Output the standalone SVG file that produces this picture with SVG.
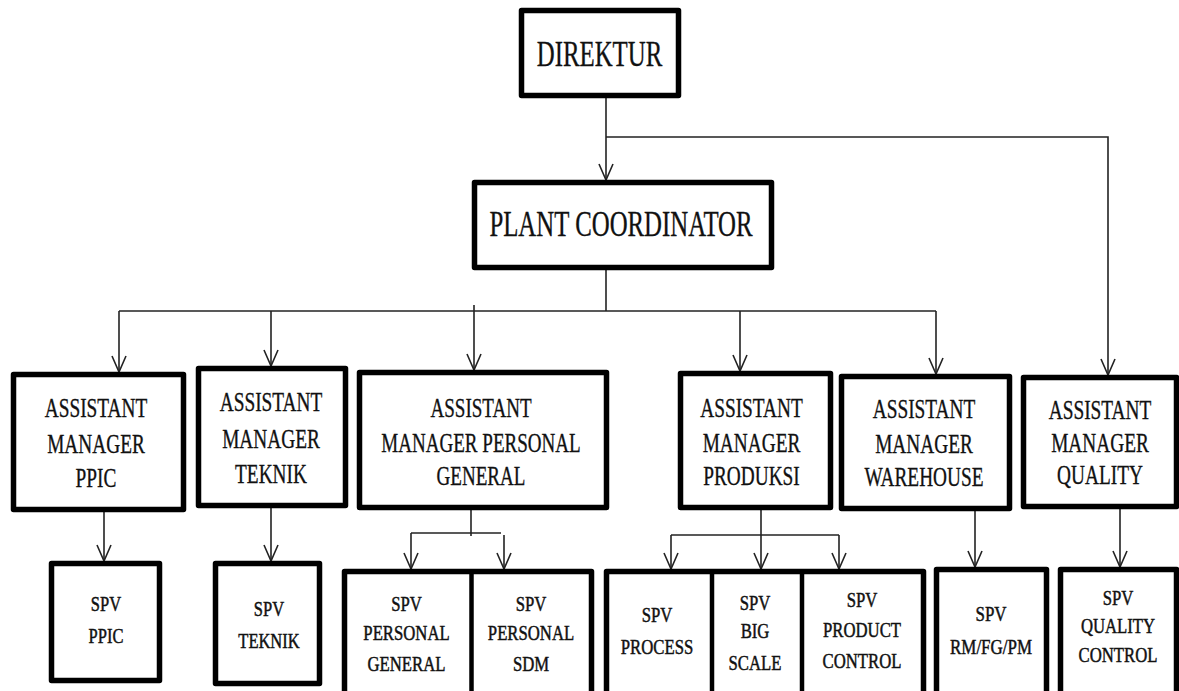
<svg xmlns="http://www.w3.org/2000/svg" width="1179" height="691" viewBox="0 0 1179 691">
<defs>
<style>
.box{fill:#fff;stroke:#000;stroke-width:5.5;stroke-linejoin:round}
.div{stroke:#000;stroke-width:4.5}
.ln{fill:none;stroke:#222;stroke-width:1.6}
.arr{marker-end:url(#ah)}
text{font-family:"Liberation Serif","Times New Roman",serif;fill:#111;stroke:#111;stroke-width:0.35;text-anchor:middle}
.t1{font-size:36px}
.t2{font-size:28px}
.t3{font-size:22px;stroke-width:0.5}
</style>
<marker id="ah" viewBox="-17 -8 18 16" refX="0" refY="0" markerWidth="18" markerHeight="16" markerUnits="userSpaceOnUse" orient="auto">
<path d="M-16,-7 L0,0 L-16,7" fill="none" stroke="#222" stroke-width="1.6"/>
</marker>
</defs>
<rect width="1179" height="691" fill="#fff"/>

<g id="connectors">
<path class="ln arr" d="M606,98 V180"/>
<path class="ln arr" d="M606,137 H1108 V375"/>
<path class="ln" d="M606,270 V311"/>
<path class="ln" d="M119,311 H936"/>
<path class="ln arr" d="M119,311 V372"/>
<path class="ln arr" d="M271,311 V366"/>
<path class="ln arr" d="M474,305 V370"/>
<path class="ln arr" d="M740,311 V371"/>
<path class="ln arr" d="M936,311 V374"/>
<path class="ln arr" d="M104,512 V561"/>
<path class="ln arr" d="M271,508 V561"/>
<path class="ln" d="M471,510 V536"/>
<path class="ln" d="M411,533 H501"/>
<path class="ln arr" d="M411,533 V569"/>
<path class="ln arr" d="M504,535 V569"/>
<path class="ln arr" d="M761,510 V569"/>
<path class="ln" d="M671,535 H839"/>
<path class="ln arr" d="M671,535 V569"/>
<path class="ln arr" d="M839,535 V569"/>
<path class="ln arr" d="M975,511 V567"/>
<path class="ln arr" d="M1120,508 V567"/>
</g>

<g id="direktur">
<rect class="box" x="521.5" y="10.5" width="157" height="85"/>
<g transform="translate(599.5 0) scale(0.69 1)"><text class="t1" y="66">DIREKTUR</text></g>
</g>

<g id="plant-coordinator">
<rect class="box" x="474.5" y="182.5" width="297" height="85"/>
<g transform="translate(621 0) scale(0.69 1)"><text class="t1" y="236">PLANT COORDINATOR</text></g>
</g>

<g id="am-ppic">
<rect class="box" x="13.5" y="374.5" width="170" height="135"/>
<g transform="translate(96 0) scale(0.69 1)">
<text class="t2" y="417">ASSISTANT</text>
<text class="t2" y="453">MANAGER</text>
<text class="t2" y="487">PPIC</text>
</g>
</g>

<g id="am-teknik">
<rect class="box" x="198.5" y="368.5" width="147" height="137"/>
<g transform="translate(271 0) scale(0.69 1)">
<text class="t2" y="411">ASSISTANT</text>
<text class="t2" y="448">MANAGER</text>
<text class="t2" y="483">TEKNIK</text>
</g>
</g>

<g id="am-personal-general">
<rect class="box" x="359.5" y="372.5" width="247" height="135"/>
<g transform="translate(481 0) scale(0.68 1)">
<text class="t2" y="417">ASSISTANT</text>
<text class="t2" y="452">MANAGER  PERSONAL</text>
<text class="t2" y="485">GENERAL</text>
</g>
</g>

<g id="am-produksi">
<rect class="box" x="680.5" y="373.5" width="150" height="134"/>
<g transform="translate(751.5 0) scale(0.69 1)">
<text class="t2" y="417">ASSISTANT</text>
<text class="t2" y="452">MANAGER</text>
<text class="t2" y="485">PRODUKSI</text>
</g>
</g>

<g id="am-warehouse">
<rect class="box" x="841.5" y="376.5" width="168" height="132"/>
<g transform="translate(924 0) scale(0.69 1)">
<text class="t2" y="418">ASSISTANT</text>
<text class="t2" y="453">MANAGER</text>
<text class="t2" y="486">WAREHOUSE</text>
</g>
</g>

<g id="am-quality">
<rect class="box" x="1023.5" y="377.5" width="153" height="129"/>
<g transform="translate(1100 0) scale(0.69 1)">
<text class="t2" y="419">ASSISTANT</text>
<text class="t2" y="452">MANAGER</text>
<text class="t2" y="484">QUALITY</text>
</g>
</g>

<g id="spv-ppic">
<rect class="box" x="51.5" y="563.5" width="108" height="117"/>
<g transform="translate(106 0) scale(0.75 1)">
<text class="t3" y="611">SPV</text>
<text class="t3" y="643">PPIC</text>
</g>
</g>

<g id="spv-teknik">
<rect class="box" x="215.5" y="563.5" width="104" height="120"/>
<g transform="translate(269 0) scale(0.75 1)">
<text class="t3" y="616">SPV</text>
<text class="t3" y="648">TEKNIK</text>
</g>
</g>

<g id="spv-personal">
<rect class="box" x="344.5" y="571.5" width="247" height="125"/>
<line class="div" x1="471.5" y1="571" x2="471.5" y2="691"/>
</g>
<g id="spv-personal-general">
<g transform="translate(406.5 0) scale(0.76 1)">
<text class="t3" y="611">SPV</text>
<text class="t3" y="640">PERSONAL</text>
<text class="t3" y="671">GENERAL</text>
</g>
</g>
<g id="spv-personal-sdm">
<g transform="translate(531 0) scale(0.76 1)">
<text class="t3" y="611">SPV</text>
<text class="t3" y="640">PERSONAL</text>
<text class="t3" y="671">SDM</text>
</g>
</g>

<g id="spv-produksi">
<rect class="box" x="606.5" y="571.5" width="317" height="125"/>
<line class="div" x1="712" y1="571" x2="712" y2="691"/>
<line class="div" x1="802" y1="571" x2="802" y2="691"/>
</g>
<g id="spv-process">
<g transform="translate(657 0) scale(0.76 1)">
<text class="t3" y="622">SPV</text>
<text class="t3" y="654">PROCESS</text>
</g>
</g>
<g id="spv-big-scale">
<g transform="translate(755 0) scale(0.76 1)">
<text class="t3" y="610">SPV</text>
<text class="t3" y="638">BIG</text>
<text class="t3" y="670">SCALE</text>
</g>
</g>
<g id="spv-product-control">
<g transform="translate(862 0) scale(0.76 1)">
<text class="t3" y="607">SPV</text>
<text class="t3" y="637">PRODUCT</text>
<text class="t3" y="668">CONTROL</text>
</g>
</g>

<g id="spv-rm-fg-pm">
<rect class="box" x="936.5" y="569.5" width="110" height="125"/>
<g transform="translate(991 0) scale(0.77 1)">
<text class="t3" y="621">SPV</text>
<text class="t3" y="654">RM/FG/PM</text>
</g>
</g>

<g id="spv-quality-control">
<rect class="box" x="1060.5" y="569.5" width="116" height="125"/>
<g transform="translate(1118 0) scale(0.76 1)">
<text class="t3" y="605">SPV</text>
<text class="t3" y="633">QUALITY</text>
<text class="t3" y="662">CONTROL</text>
</g>
</g>
</svg>
